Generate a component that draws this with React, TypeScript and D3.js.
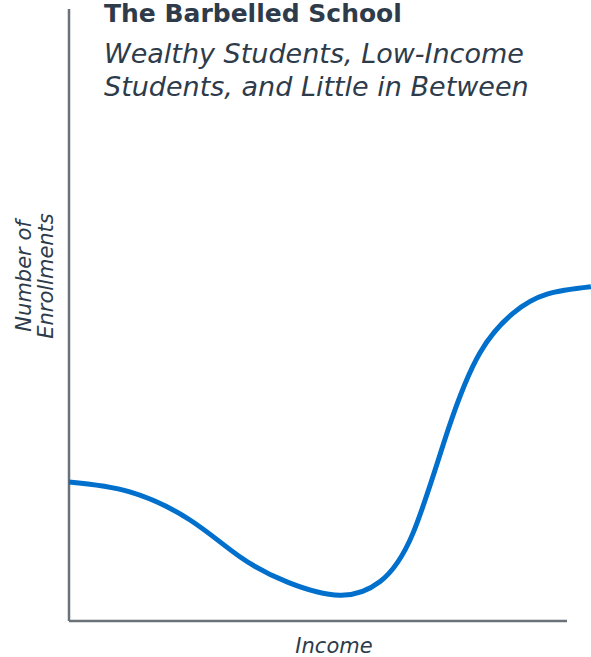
import React from "react";
import * as d3 from "d3";

const W = 591;
const H = 657;

const title = "The Barbelled School";
const subtitleLines = ["Wealthy Students, Low-Income", "Students, and Little in Between"];
const yLabelLines = ["Number of", "Enrollments"];
const xLabel = "Income";

// income (0-100 along the axis; curve runs past the axis end)
const income = [0, 12.2, 24.3, 34.3, 44.0, 54.4, 62.4, 69.1, 76.1, 82.5, 89.2, 96.0, 104.8];
// number of enrollments (0-100)
const enrollments = [22.7, 21.1, 16.5, 10.5, 6.3, 4.2, 6.4, 14.4, 31.2, 43.8, 50.3, 53.4, 54.6];

export default function App() {
  const x = d3.scaleLinear().domain([0, 100]).range([69, 567]);
  const y = d3.scaleLinear().domain([0, 100]).range([621, 9]);
  const pts = income.map((v, i) => [v, enrollments[i]] as [number, number]);
  const line = d3
    .line<[number, number]>()
    .x((d) => x(d[0]))
    .y((d) => y(d[1]))
    .curve(d3.curveNatural);
  const textColor = "#2e3b4a";
  const font = "'DejaVu Sans', Verdana, sans-serif";
  return (
    <svg width={W} height={H} style={{ position: "absolute", left: 0, top: 0 }} fontFamily={font}>
      <defs>
        <clipPath id="clip">
          <rect x={0} y={0} width={W} height={H} />
        </clipPath>
      </defs>
      <line x1={x(0)} x2={x(0)} y1={y(100)} y2={y(0)} stroke="#6b7178" strokeWidth={2.5} />
      <line x1={x(0)} x2={x(100)} y1={y(0)} y2={y(0)} stroke="#6b7178" strokeWidth={2.5} />
      <path d={line(pts) || ""} fill="none" stroke="#0070cc" strokeWidth={5} clipPath="url(#clip)" />
      <text x={104} y={22} fontSize={25} fontWeight="bold" fill={textColor}>{title}</text>
      {subtitleLines.map((s, i) => (
        <text key={i} x={104} y={63 + i * 33} fontSize={27} fontStyle="italic" fill={textColor}>{s}</text>
      ))}
      {yLabelLines.map((s, i) => (
        <text key={i} transform={`translate(${31 + i * 22},276) rotate(-90)`} textAnchor="middle" fontSize={21} fontStyle="italic" fill={textColor}>{s}</text>
      ))}
      <text x={334} y={653} textAnchor="middle" fontSize={21} fontStyle="italic" fill={textColor}>{xLabel}</text>
    </svg>
  );
}
